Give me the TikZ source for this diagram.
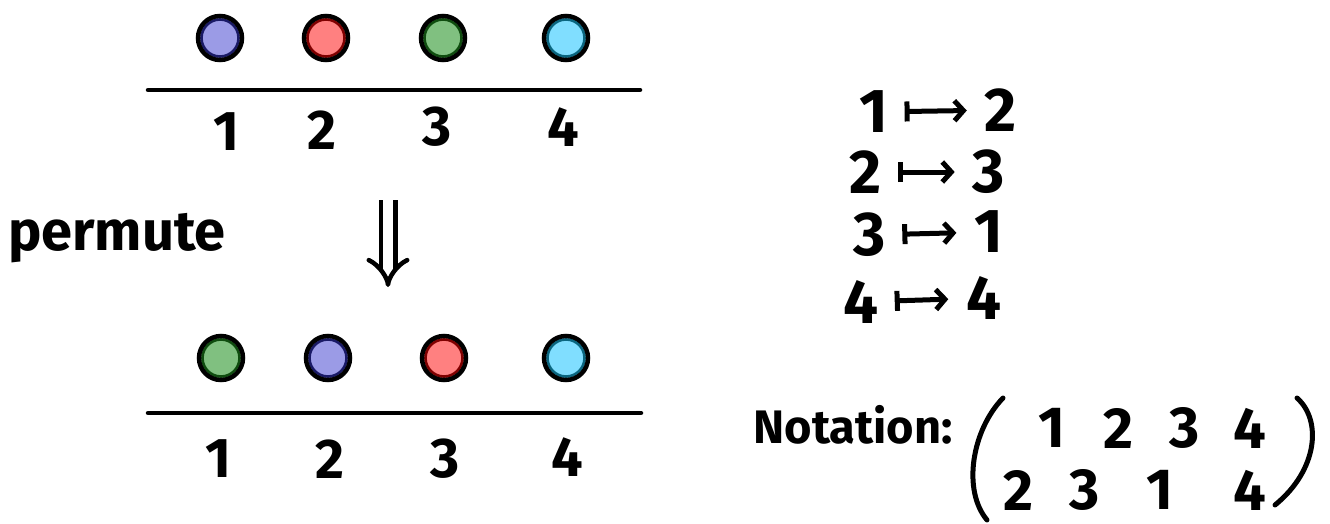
\documentclass[tikz,border=0pt]{standalone}
\usepackage{fontspec}
\setmainfont{Fira Sans}
\usetikzlibrary{arrows.meta}
\definecolor{cblue}{HTML}{9B9BE6}
\definecolor{cred}{HTML}{FF8080}
\definecolor{cgreen}{HTML}{80C080}
\definecolor{ccyan}{HTML}{80DEFF}
\definecolor{dblue}{HTML}{1A1A66}
\definecolor{dred}{HTML}{800000}
\definecolor{dgreen}{HTML}{0F4D0F}
\definecolor{dcyan}{HTML}{0A6680}
\tikzset{
  ball/.style 2 args={circle, draw=black, line width=4.5pt, minimum size=44pt, inner sep=0pt, fill=#1,
    path picture={\draw[#2, line width=2.6pt] (path picture bounding box.center) circle (18.5pt);}},
  numlbl/.style={font=\fontsize{56}{64}\selectfont\bfseries, inner sep=2pt},
  maplbl/.style={font=\fontsize{62}{70}\selectfont\bfseries, inner sep=2pt},
  matlbl/.style={font=\fontsize{58}{66}\selectfont\bfseries, inner sep=2pt},
  base/.style={line width=4.5pt, line cap=round},
  mapsto/.style={line width=5pt, line cap=round, {Bar[width=20pt,line width=5pt]}-{Straight Barb[length=9pt,width=20pt,line width=5pt]}, shorten <=14pt, shorten >=16pt},
  paren/.style={line width=5pt, line cap=round},
}
\begin{document}
\begin{tikzpicture}[x=1pt,y=-1pt]
\useasboundingbox (0,0) rectangle (1330,524);
% top row
\node[ball={cblue}{dblue}] (t1) at (220,38) {};
\node[ball={cred}{dred}] (t2) at (326,38) {};
\node[ball={cgreen}{dgreen}] (t3) at (443,38) {};
\node[ball={ccyan}{dcyan}] (t4) at (566,38) {};
\draw[base] (148,90) -- (640,90);
\node[numlbl] (tn1) at (226,132) {1};
\node[numlbl] (tn2) at (322,130) {2};
\node[numlbl] (tn3) at (437,127) {3};
\node[numlbl] (tn4) at (563,127) {4};
% permute
\node[font=\fontsize{56}{64}\selectfont\bfseries, inner sep=0pt] (perm) at (117,238) {permute};
\coordinate (arrT) at (388,200);
\coordinate (arrB) at (388,287);
\draw[line width=4.5pt, double, double distance=10pt, -{Implies[]}] (arrT) -- (arrB);
% bottom row
\node[ball={cgreen}{dgreen}] (b1) at (221,358) {};
\node[ball={cblue}{dblue}] (b2) at (328,358) {};
\node[ball={cred}{dred}] (b3) at (444,358) {};
\node[ball={ccyan}{dcyan}] (b4) at (566,358) {};
\draw[base] (148,413) -- (641,413);
\node[numlbl] (bn1) at (218,459) {1};
\node[numlbl] (bn2) at (330,459) {2};
\node[numlbl] (bn3) at (445,459) {3};
\node[numlbl] (bn4) at (567,457) {4};
% mappings
\node[maplbl] (ma1) at (874,112) {1};
\node[maplbl] (mb1) at (1001,110) {2};
\node[maplbl] (ma2) at (866,172) {2};
\node[maplbl] (mb2) at (989,172) {3};
\node[maplbl] (ma3) at (870,235) {3};
\node[maplbl] (mb3) at (989,232) {1};
\node[maplbl] (ma4) at (861,302) {4};
\node[maplbl] (mb4) at (984,298) {4};
\draw[mapsto] (ma1) -- (mb1);
\draw[mapsto] (ma2) -- (mb2);
\draw[mapsto] (ma3) -- (mb3);
\draw[mapsto] (ma4) -- (mb4);
% notation
\node[font=\fontsize{47}{56}\selectfont\bfseries, inner sep=0pt] (nota) at (853,425) {Notation:};
\draw[paren] (1003,398) .. controls (972,430) and (962,490) .. (987,520);
\draw[paren] (1297,398) .. controls (1322,420) and (1318,470) .. (1275,505);
\node[matlbl] (p11) at (1052,428) {1};
\node[matlbl] (p12) at (1118,428) {2};
\node[matlbl] (p13) at (1185,428) {3};
\node[matlbl] (p14) at (1250,428) {4};
\node[matlbl] (p21) at (1018,490) {2};
\node[matlbl] (p22) at (1085,490) {3};
\node[matlbl] (p23) at (1160,490) {1};
\node[matlbl] (p24) at (1250,490) {4};
\end{tikzpicture}
\end{document}
